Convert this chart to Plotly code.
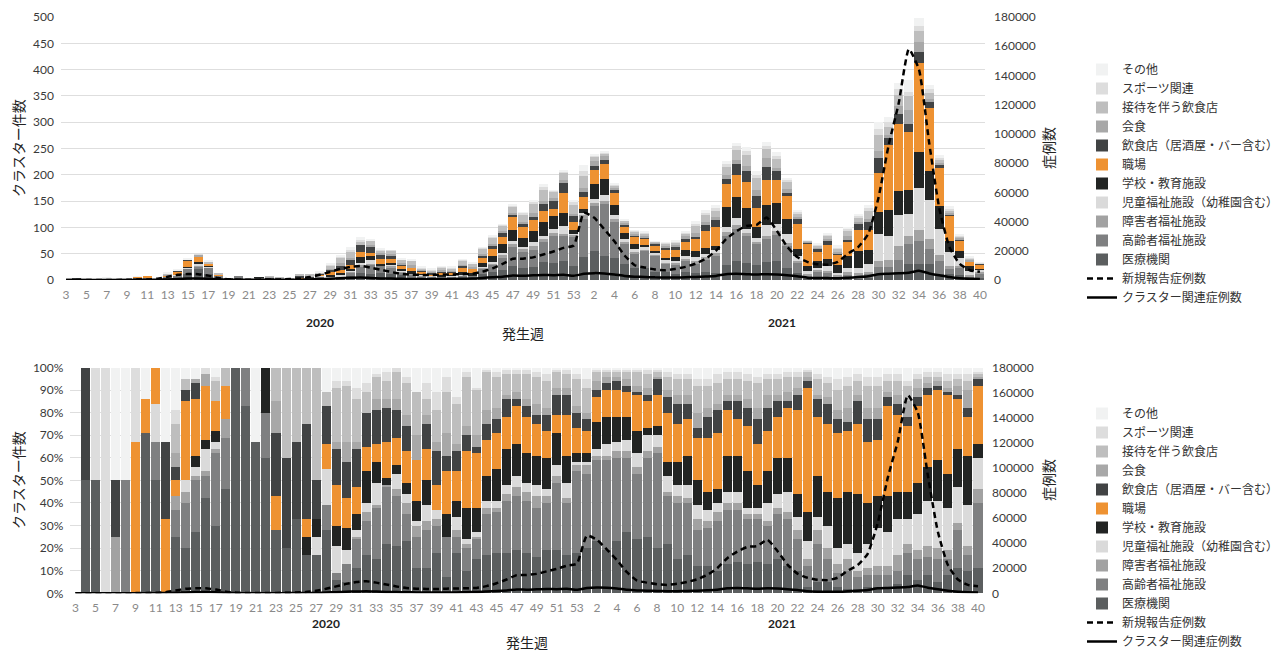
import plotly.graph_objects as go
import numpy as np

# ---------------- data ----------------
weeks_2020 = list(range(3, 54))
weeks_2021 = list(range(1, 41))
week_labels = [str(w) for w in weeks_2020 + weeks_2021]

categories = ['医療機関', '高齢者福祉施設', '障害者福祉施設', '児童福祉施設（幼稚園含む）',
              '学校・教育施設', '職場', '飲食店（居酒屋・バー含む）', '会食',
              '接待を伴う飲食店', 'スポーツ関連', 'その他']

# total number of clusters per week (top panel)
totals = [0, 2, 2, 1, 4, 2, 3, 7, 6, 3,
          16, 20, 42, 49, 37, 12, 2, 6, 3, 5,
          7, 5, 3, 12, 11, 16, 31, 47, 62, 82,
          78, 59, 57, 41, 40, 25, 23, 26, 27, 39,
          34, 62, 84, 106, 144, 129, 152, 183, 171, 209,
          152, 218, 240, 245, 184, 115, 95, 92, 74, 72,
          76, 94, 112, 134, 142, 226, 260, 253, 208, 263,
          243, 194, 132, 76, 69, 90, 66, 101, 126, 142,
          300, 310, 375, 380, 498, 371, 237, 140, 87, 44,
          33]

# share (%) of each setting per week (bottom panel)
medical = [0, 50, 50, 0, 0, 0, 0, 71, 50, 0,
           25, 20, 27, 42, 30, 46, 100, 83, 67, 60,
           28, 20, 33, 17, 17, 28, 6, 5, 11, 17,
           15, 22, 21, 23, 11, 11, 18, 7, 18, 10,
           15, 17, 18, 18, 19, 18, 16, 19, 19, 17,
           18, 20, 23, 19, 23, 27, 24, 25, 20, 22,
           15, 17, 12, 12, 10, 13, 14, 13, 14, 13,
           15, 12, 10, 3, 5, 5, 3, 2, 2, 3,
           3, 3, 4, 8, 6, 8, 5, 8, 11, 10,
           11]
elderly = [0, 0, 0, 0, 0, 50, 0, 0, 17, 0,
           12, 20, 23, 10, 32, 23, 0, 17, 0, 20,
           0, 0, 0, 0, 0, 11, 3, 8, 13, 15,
           23, 25, 22, 12, 14, 17, 12, 18, 7, 10,
           9, 18, 18, 23, 24, 23, 22, 21, 30, 23,
           36, 33, 36, 40, 37, 33, 29, 35, 42, 21,
           25, 23, 16, 17, 22, 24, 23, 20, 19, 17,
           20, 21, 14, 9, 17, 10, 6, 8, 5, 5,
           5, 5, 6, 10, 9, 8, 10, 7, 17, 7,
           29]
disabled = [0, 0, 0, 0, 25, 0, 0, 0, 0, 0,
            6, 5, 2, 2, 2, 8, 0, 0, 0, 0,
            0, 0, 0, 0, 0, 0, 0, 0, 1, 4,
            1, 1, 3, 5, 5, 4, 3, 0, 3, 2,
            1, 3, 2, 3, 4, 4, 5, 3, 3, 2,
            3, 4, 2, 2, 3, 3, 3, 3, 3, 2,
            3, 2, 5, 3, 4, 3, 3, 2, 2, 2,
            3, 3, 4, 3, 6, 5, 4, 5, 3, 3,
            4, 4, 7, 4, 4, 5, 5, 4, 3, 4,
            6]
child = [0, 0, 0, 0, 0, 0, 0, 0, 17, 0,
         0, 5, 4, 10, 3, 0, 0, 0, 0, 0,
         0, 0, 0, 0, 8, 16, 12, 6, 3, 4,
         10, 0, 7, 4, 2, 7, 4, 0, 6, 2,
         2, 3, 3, 4, 5, 4, 5, 3, 5, 7,
         1, 1, 3, 5, 4, 5, 6, 7, 5, 7,
         5, 6, 6, 5, 4, 5, 5, 3, 3, 8,
         6, 9, 6, 8, 6, 10, 7, 7, 8, 11,
         17, 15, 16, 11, 16, 20, 21, 19, 16, 18,
         14]
school = [0, 0, 0, 0, 0, 0, 0, 0, 0, 0,
          0, 0, 5, 4, 5, 0, 0, 0, 0, 20,
          0, 0, 0, 8, 8, 0, 9, 10, 7, 14,
          9, 3, 4, 5, 9, 11, 0, 10, 7, 14,
          11, 11, 14, 16, 14, 13, 13, 14, 14, 12,
          4, 4, 12, 12, 11, 10, 10, 3, 4, 6,
          10, 13, 11, 8, 6, 16, 16, 16, 10, 14,
          16, 15, 10, 13, 18, 15, 22, 23, 26, 18,
          14, 16, 12, 12, 14, 15, 18, 15, 17, 22,
          6]
workplace = [0, 0, 0, 0, 0, 0, 67, 15, 16, 33,
             7, 35, 25, 24, 13, 15, 0, 0, 0, 0,
             15, 0, 0, 8, 0, 11, 18, 13, 12, 11,
             8, 16, 12, 14, 18, 14, 11, 19, 13, 25,
             24, 16, 16, 14, 17, 16, 14, 12, 8, 18,
             11, 10, 11, 12, 12, 11, 16, 12, 14, 22,
             17, 16, 19, 24, 25, 20, 16, 20, 18, 18,
             18, 22, 37, 55, 26, 30, 29, 27, 31, 27,
             25, 40, 34, 29, 34, 32, 31, 35, 22, 17,
             26]
restaurant = [0, 50, 0, 0, 25, 0, 0, 0, 0, 34,
              6, 5, 7, 0, 0, 0, 0, 0, 0, 0,
              28, 40, 34, 42, 17, 17, 16, 16, 17, 15,
              15, 15, 12, 11, 0, 11, 15, 7, 9, 7,
              3, 7, 6, 8, 3, 5, 4, 7, 9, 9,
              7, 5, 3, 3, 4, 3, 1, 3, 7, 7,
              9, 7, 4, 9, 10, 4, 8, 8, 11, 10,
              7, 3, 7, 3, 8, 9, 6, 4, 10, 10,
              9, 4, 5, 4, 4, 3, 2, 1, 2, 4,
              3]
dining = [0, 0, 0, 0, 0, 0, 0, 0, 0, 0,
          6, 0, 2, 5, 0, 0, 0, 0, 0, 0,
          14, 0, 0, 0, 0, 0, 3, 9, 3, 0,
          5, 4, 5, 5, 11, 4, 4, 10, 3, 4,
          5, 6, 5, 2, 3, 3, 5, 3, 3, 3,
          3, 3, 4, 3, 2, 3, 3, 3, 1, 3,
          4, 4, 7, 4, 3, 3, 3, 4, 5, 6,
          3, 4, 3, 2, 2, 3, 4, 6, 3, 5,
          5, 2, 4, 7, 4, 2, 2, 2, 4, 8,
          1]
hostess = [0, 0, 0, 0, 0, 0, 0, 0, 0, 0,
           13, 5, 0, 0, 9, 8, 0, 0, 0, 0,
           15, 40, 33, 25, 50, 6, 24, 25, 19, 9,
           10, 8, 12, 14, 19, 7, 14, 18, 18, 22,
           20, 17, 14, 9, 8, 11, 12, 12, 7, 6,
           12, 11, 4, 2, 2, 3, 6, 6, 2, 6,
           7, 7, 12, 10, 9, 7, 7, 8, 11, 7,
           7, 7, 5, 2, 7, 6, 9, 10, 6, 10,
           10, 5, 6, 7, 4, 3, 2, 3, 3, 4,
           1]
sports = [0, 0, 50, 100, 0, 0, 33, 0, 0, 0,
          6, 0, 0, 3, 2, 0, 0, 0, 0, 0,
          0, 0, 0, 0, 0, 0, 3, 2, 5, 4,
          1, 4, 2, 3, 0, 7, 8, 7, 3, 2,
          1, 1, 2, 2, 2, 2, 2, 3, 1, 2,
          2, 4, 1, 1, 1, 1, 1, 2, 1, 2,
          2, 2, 3, 3, 4, 3, 3, 3, 3, 2,
          2, 2, 2, 1, 2, 3, 5, 4, 3, 4,
          4, 3, 3, 2, 2, 2, 2, 3, 2, 3,
          1]
other = [0, 0, 0, 0, 50, 50, 0, 14, 0, 33,
         19, 5, 5, 0, 4, 0, 0, 0, 33, 0,
         0, 0, 0, 0, 0, 11, 6, 6, 9, 7,
         3, 2, 0, 4, 11, 7, 11, 4, 13, 2,
         9, 1, 2, 1, 1, 1, 2, 3, 1, 1,
         3, 5, 1, 1, 1, 1, 1, 1, 1, 2,
         3, 3, 5, 5, 3, 2, 2, 3, 4, 3,
         3, 2, 2, 1, 3, 4, 5, 4, 3, 4,
         4, 3, 3, 6, 3, 2, 2, 3, 3, 3,
         2]

new_cases = [5, 10, 10, 10, 20, 50, 150, 300, 400, 900,
             2200, 3600, 4100, 4000, 3000, 1300, 500, 250, 150, 250,
             300, 400, 600, 1000, 2000, 3600, 5500, 7500, 9000, 9600,
             8500, 7000, 5500, 4200, 3700, 3500, 3400, 3700, 3800, 4000,
             4300, 5700, 8000, 11000, 14500, 14600, 15500, 17500, 19500, 22000,
             23600, 46000, 42700, 34800, 26500, 16800, 10100, 8500, 7200, 6700,
             7600, 9000, 11200, 14600, 20000, 28000, 33300, 37000, 37700, 42700,
             33700, 22900, 15700, 12400, 10800, 10500, 12400, 18000, 22500, 31500,
             56000, 92000, 121000, 158000, 144000, 94000, 49000, 22500, 11000, 6700,
             5600]
cluster_cases = [0, 0, 0, 0, 0, 0, 50, 100, 100, 200,
                 400, 700, 1000, 1100, 900, 400, 150, 100, 100, 100,
                 100, 150, 150, 200, 400, 600, 900, 1200, 1500, 1700,
                 1400, 1100, 1000, 800, 700, 600, 600, 700, 700, 900,
                 1000, 1400, 1900, 2300, 3000, 2900, 3200, 3400, 3300, 3600,
                 2900, 4200, 4700, 4500, 3800, 2800, 2300, 2100, 1800, 1700,
                 1700, 1900, 2100, 2400, 2800, 4000, 4200, 4000, 3700, 4000,
                 3800, 3300, 2600, 1600, 1300, 1300, 1200, 1600, 2000, 2600,
                 4000, 4300, 4600, 5000, 6300, 4500, 3200, 2000, 1200, 800,
                 700]

colors = ['#5b5e5f', '#7f8081', '#a2a2a2', '#dadada', '#222423', '#ee9232',
          '#414344', '#a8a8a8', '#bebebe', '#dddddd', '#f1f2f2']

# ---------------- derived ----------------
share_list = [medical, elderly, disabled, child, school, workplace,
              restaurant, dining, hostess, sports, other]
for s in share_list + [new_cases, cluster_cases]:
    assert len(s) == len(week_labels), len(s)
shares = np.array(share_list, dtype=float)
ssum = shares.sum(axis=0)
ssum[ssum == 0] = 1
pct = shares / ssum * 100
counts = pct / 100 * np.array(totals, dtype=float)

idx = list(range(len(week_labels)))
tickvals = idx[::2]
ticktext = week_labels[::2]

# the page body has an 8px margin; work in screen pixels and convert
OFF = 8
W, H = 1287 - OFF, 664 - OFF


def px(x):
    return (x - OFF) / W


def py(y):
    return 1 - (y - OFF) / H


FONT = "Lato, 'Noto Sans CJK JP', sans-serif"
JFONT = "'Noto Sans CJK JP', sans-serif"

fig = go.Figure()
n = len(categories)
for k, cat in enumerate(categories):
    fig.add_trace(go.Bar(x=idx, y=counts[k], name=cat, marker=dict(color=colors[k], line=dict(width=0)),
                         xaxis='x', yaxis='y', legend='legend', legendrank=n - k))
for k, cat in enumerate(categories):
    fig.add_trace(go.Bar(x=idx, y=pct[k], name=cat, marker=dict(color=colors[k], line=dict(width=0)),
                         xaxis='x2', yaxis='y3', legend='legend2', legendrank=n - k))

line_specs = [('新規報告症例数', new_cases, '6px,4px', n + 1),
              ('クラスター関連症例数', cluster_cases, 'solid', n + 2)]
for name, vals, dash, rank in line_specs:
    fig.add_trace(go.Scatter(x=idx, y=vals, name=name, mode='lines',
                             line=dict(color='#000000', width=2.5, dash=dash, shape='spline', smoothing=0.5),
                             xaxis='x', yaxis='y2', legend='legend', legendrank=rank))
    fig.add_trace(go.Scatter(x=idx, y=vals, name=name, mode='lines',
                             line=dict(color='#000000', width=2.5, dash=dash, shape='spline', smoothing=0.5),
                             xaxis='x2', yaxis='y4', legend='legend2', legendrank=rank))

xcommon = dict(range=[-0.5, len(idx) - 0.5], tickmode='array', tickvals=tickvals, ticktext=ticktext,
               tickfont=dict(color='#8a8a8a', size=12), showgrid=False, zeroline=False,
               showline=False, ticks='', ticklabelstandoff=6, fixedrange=True, automargin=False,
               ticklabeloverflow='allow')
yleft = dict(gridcolor='#dedede', gridwidth=1, zeroline=False, showline=False, ticks='',
             tickfont=dict(color='#3a3a3a', size=12), ticklabelstandoff=6, automargin=False,
             ticklabeloverflow='allow')
yright = dict(side='right', range=[0, 180000], dtick=20000, tickformat='d', showgrid=False,
              zeroline=False, showline=False, ticks='', tickfont=dict(color='#3a3a3a', size=12),
              ticklabelstandoff=8, automargin=False, ticklabeloverflow='allow')

legend_common = dict(xanchor='left', yanchor='top', xref='container', yref='container',
                     traceorder='normal', bgcolor='rgba(0,0,0,0)',
                     font=dict(size=12, color='#333333', family=JFONT), itemclick=False)

fig.update_layout(
    width=W, height=H, margin=dict(l=0, r=0, t=0, b=0, autoexpand=False),
    paper_bgcolor='white', plot_bgcolor='white',
    barmode='stack', bargap=0.1,
    font=dict(family=FONT, size=12, color='#333333'),
    xaxis=dict(domain=[px(61), px(985)], anchor='y', **xcommon),
    yaxis=dict(domain=[py(280), py(17)], anchor='x', range=[0, 500], dtick=50, **yleft),
    yaxis2=dict(overlaying='y', anchor='x', **yright),
    xaxis2=dict(domain=[px(70.4), px(983)], anchor='y3', **xcommon),
    yaxis3=dict(domain=[py(593.3), py(367.5)], anchor='x2', range=[0, 100], dtick=10,
                ticksuffix='%', **yleft),
    yaxis4=dict(overlaying='y3', anchor='x2', **yright),
    legend=dict(x=px(1082), y=py(55), **legend_common),
    legend2=dict(x=px(1082), y=py(399), **legend_common),
)

ann = []
for xr, yy in (('x', py(322)), ('x2', py(633))):
    ann.append(dict(text='<b>2020</b>', x=25, y=yy, xref=xr, yref='paper', showarrow=False,
                    font=dict(size=12, color='#222222', family=FONT)))
    ann.append(dict(text='<b>2021</b>', x=70.5, y=yy, xref=xr, yref='paper', showarrow=False,
                    font=dict(size=12, color='#222222', family=FONT)))
ann.append(dict(text='発生週', x=45, y=py(333), xref='x', yref='paper', showarrow=False,
                font=dict(size=14, color='#222222', family=JFONT)))
ann.append(dict(text='発生週', x=45, y=py(654), xref='x2', yref='paper', showarrow=False,
                font=dict(size=14, color='#222222', family=JFONT)))
for yy in (py(148), py(480)):
    ann.append(dict(text='クラスター件数', x=px(18), y=yy, xref='paper', yref='paper', showarrow=False,
                    xanchor='center', yanchor='middle',
                    textangle=-90, font=dict(size=14, color='#222222', family=JFONT)))
    ann.append(dict(text='症例数', x=px(1048), y=yy, xref='paper', yref='paper', showarrow=False,
                    xanchor='center', yanchor='middle',
                    textangle=-90, font=dict(size=14, color='#222222', family=JFONT)))
fig.update_layout(annotations=ann)

fig.write_html('out.html')
